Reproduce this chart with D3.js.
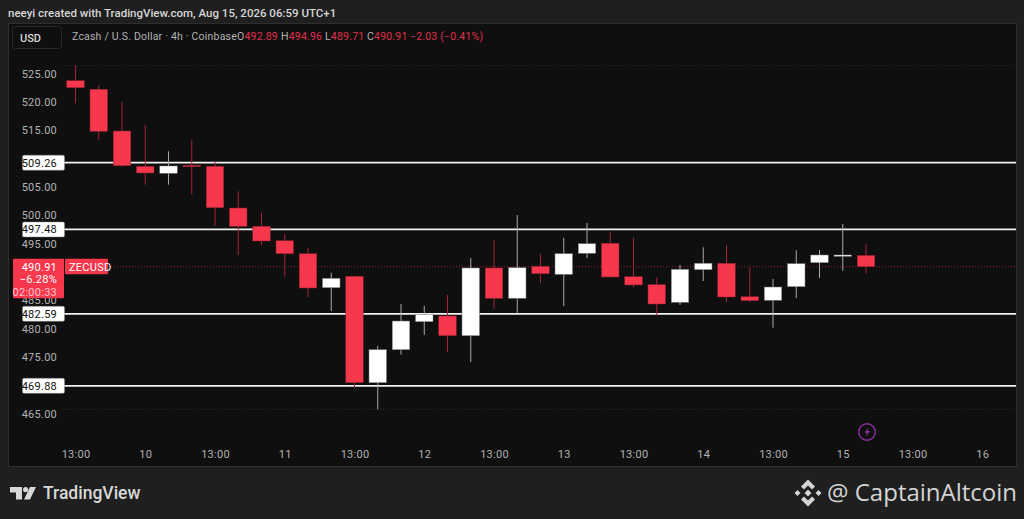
<!DOCTYPE html>
<html>
<head>
<title>ZECUSD 4h</title>
<meta charset="utf-8">
<style>
body { margin: 0; background: #1f1f1f; overflow: hidden; }
svg { display: block; }
text { font-family: Roboto, sans-serif; }
.axis text { fill: #b2b2b2; font-size: 11px; letter-spacing: .25px; }
.axis path, .axis line { display: none; }
</style>
<script src="https://d3js.org/d3.v7.min.js"></script>
</head>
<body>
<script>
// 4h candles
const opens = [523.73,522.21,514.85,508.62,507.39,508.8,508.62,501.26,498.04,495.49,493.2,487.2,489.21,470.44,476.26,481.2,482.21,478.73,490.68,485.33,490.98,489.56,493.27,495.04,489.14,487.73,484.62,490.38,491.51,485.61,484.98,487.38,491.61,492.74,492.89];
const closes = [522.49,514.8,508.73,507.44,508.68,508.55,501.32,498.04,495.44,493.2,487.15,488.86,470.44,476.26,481.32,482.51,478.73,490.68,485.33,490.73,489.67,493.2,494.96,489.09,487.68,484.32,490.45,491.51,485.56,484.91,487.32,491.44,492.97,492.97,490.91];
const highs = [526.38,522.97,519.97,515.91,511.27,513.21,509.44,504.21,500.44,496.68,494.15,489.85,489.32,476.96,484.32,483.97,485.91,492.44,495.62,500.03,493.15,496.02,498.62,497.08,496.02,489.04,491.21,494.33,494.74,490.8,488.74,493.8,493.85,498.44,494.96];
const lows = [519.74,513.26,508.55,505.38,505.38,503.68,498.09,492.97,494.74,489.14,485.56,483.09,469.55,465.74,475.38,478.85,475.85,474.09,483.49,482.68,488.03,483.97,492.44,489,487.27,482.33,484.15,488.38,484.68,484.62,480.14,485.38,488.91,490.2,489.71];

const priceTicks = [525,520,515,505,500,495,485,480,475,465];
const levels = [509.26,497.48,482.59,469.88];
const timeTicks = [0,3,6,9,12,15,18,21,24,27,30,33,36,39];
const timeLabels = ['13:00','10','13:00','11','13:00','12','13:00','13','13:00','14','13:00','15','13:00','16'];
const rangeLines = [526.38,465.74];
const lastPrice = 490.91;

const red = '#f7374b', white = '#ffffff';

const svg = d3.select('body').append('svg').attr('width',1024).attr('height',519);

// panel
svg.append('rect').attr('width',1024).attr('height',519).attr('fill','#1f1f1f');
svg.append('rect').attr('x',8.5).attr('y',23.5).attr('width',1008).attr('height',443)
    .attr('fill','#0f0f0f').attr('stroke','#2e2e2e');

const x = d3.scaleLinear().domain([0,34]).range([75.5,866]);
const y = d3.scaleLinear().domain([465,525]).range([413.5,73.5]);

// header
svg.append('text').attr('x',8).attr('y',17).attr('fill','#d6d6d6')
    .style('font-size','11.5px').style('font-weight',500)
    .text('neeyi created with TradingView.com, Aug 15, 2026 06:59 UTC+1');

svg.append('rect').attr('x',12.5).attr('y',26.5).attr('width',49).attr('height',22).attr('rx',3)
    .attr('fill','none').attr('stroke','#2a2a2a');
svg.append('text').attr('x',20).attr('y',42).attr('fill','#d6d6d6').style('font-size','11px').style('font-weight',500).text('USD');

svg.append('text').attr('x',72).attr('y',40).attr('fill','#b2b2b2').style('font-size','10.5px').style('letter-spacing','.2px')
    .text('Zcash / U.S. Dollar · 4h · Coinbase');

const legend = [
    ['O','492.89',237],['H','494.96',281],['L','489.71',325],['C','490.91',367]
];
legend.forEach(d => {
    const t = svg.append('text').attr('x',d[2]).attr('y',40).style('font-size','10.5px').style('letter-spacing','.2px');
    t.append('tspan').attr('fill','#b2b2b2').text(d[0]);
    t.append('tspan').attr('fill','#e0304a').text(d[1]);
});
svg.append('text').attr('x',410).attr('y',40).attr('fill','#e0304a').style('font-size','10.5px').style('letter-spacing','.2px')
    .text('−2.03 (−0.41%)');

// dotted high / low range
svg.selectAll('.range').data(rangeLines).join('line').attr('class','range')
    .attr('x1',65).attr('x2',1016).attr('y1',d => y(d)).attr('y2',d => y(d))
    .attr('stroke','#333').attr('stroke-dasharray','1 2');

// horizontal levels
svg.selectAll('.level').data(levels).join('line').attr('class','level')
    .attr('x1',64).attr('x2',1016).attr('y1',d => y(d)).attr('y2',d => y(d))
    .attr('stroke','#f2f2f2').attr('stroke-width',1.7);

// last price line
svg.append('line').attr('x1',108).attr('x2',1016).attr('y1',y(lastPrice)).attr('y2',y(lastPrice))
    .attr('stroke','#8f2030').attr('stroke-dasharray','1 2');

// axes
svg.append('g').attr('class','axis').attr('transform','translate(60,0)')
    .call(d3.axisLeft(y).tickValues(priceTicks).tickSize(0).tickFormat(d3.format('.2f')));
svg.append('g').attr('class','axis').attr('transform','translate(0,447)')
    .call(d3.axisBottom(x).tickValues(timeTicks).tickSize(0).tickFormat((d,i) => timeLabels[i]));

// candles
const candles = opens.map((o,i) => ({i, o, c:closes[i], h:highs[i], l:lows[i]}));
const bw = 17.5;
const g = svg.selectAll('.candle').data(candles).join('g').attr('class','candle');
g.append('line')
    .attr('x1',d => x(d.i)).attr('x2',d => x(d.i))
    .attr('y1',d => y(d.h)).attr('y2',d => y(d.l))
    .attr('stroke',d => d.c < d.o ? '#a5233a' : '#a8a8a8').attr('stroke-width',1);
g.append('rect')
    .attr('x',d => x(d.i) - bw/2).attr('width',bw)
    .attr('y',d => y(Math.max(d.o,d.c)))
    .attr('height',d => Math.max(1, Math.abs(y(d.o) - y(d.c))))
    .attr('fill',d => d.c < d.o ? red : white)
    .attr('stroke',d => d.c < d.o ? '#8f2030' : '#777').attr('stroke-width',.5);

// level labels
const lab = svg.selectAll('.lab').data(levels).join('g').attr('class','lab')
    .attr('transform',d => `translate(0,${y(d)})`);
lab.append('rect').attr('x',22.5).attr('y',-7.5).attr('width',42).attr('height',15).attr('rx',1.5)
    .attr('fill','#fff').attr('stroke','#888').attr('stroke-width',.5);
lab.append('text').attr('x',57).attr('y',4).attr('text-anchor','end').attr('fill','#111')
    .style('font-size','11px').style('letter-spacing','.25px').text(d => d.toFixed(2));

// last price box
svg.append('rect').attr('x',13).attr('y',y(lastPrice)-8).attr('width',51).attr('height',39.5).attr('rx',1).attr('fill',red);
[['490.91',4,'#fff'],['−6.28%',16.5,'#fff'],['02:00:33',29,'#ffc4cb']].forEach(d => {
    svg.append('text').attr('x',57).attr('y',y(lastPrice)+d[1]).attr('text-anchor','end').attr('fill',d[2])
        .style('font-size','11px').style('letter-spacing','.25px').text(d[0]);
});
svg.append('rect').attr('x',65).attr('y',y(lastPrice)-8).attr('width',43).attr('height',15.5).attr('rx',1).attr('fill',red);
svg.append('text').attr('x',69).attr('y',y(lastPrice)+4).attr('fill','#fff').style('font-size','11px').style('letter-spacing','.25px').text('ZECUSD');

// lightning badge
svg.append('circle').attr('cx',867).attr('cy',432).attr('r',8.3).attr('fill','none').attr('stroke','#8d2f9e').attr('stroke-width',1.4);
svg.append('path').attr('d','M869 427 L864.5 432.8 L867 432.8 L865.5 437 L870 431 L867.4 431 Z').attr('fill','#8d2f9e');

// TradingView logo
svg.append('path').attr('fill','#d8d8d8')
    .attr('d','M10 487 H22 V499.5 H16 V492.5 H10 Z M30 487 H36 L30 499.5 H24 Z');
svg.append('circle').attr('cx',25.6).attr('cy',489.6).attr('r',2.6).attr('fill','#d8d8d8');
svg.append('text').attr('x',43).attr('y',499).attr('fill','#d8d8d8')
    .style('font-size','17.5px').style('font-weight',500).text('TradingView');

// binance style mark + watermark
svg.append('path').attr('fill','#d4d4d4').attr('fill-rule','evenodd')
    .attr('d','M808 479.5 L815 486.5 L812 489.5 L808 485.5 L804 489.5 L801 486.5 Z M808 506.5 L801 499.5 L804 496.5 L808 500.5 L812 496.5 L815 499.5 Z M794.5 493 L797.5 490 L800.5 493 L797.5 496 Z M815.5 493 L818.5 490 L821.5 493 L818.5 496 Z M808 489.5 L811.5 493 L808 496.5 L804.5 493 Z');
svg.append('text').attr('x',827).attr('y',501).attr('fill','#d4d4d4')
    .style('font-family','"Open Sans", sans-serif').style('font-size','24px')
    .style('paint-order','stroke').text('@ CaptainAltcoin');
</script>
</body>
</html>
